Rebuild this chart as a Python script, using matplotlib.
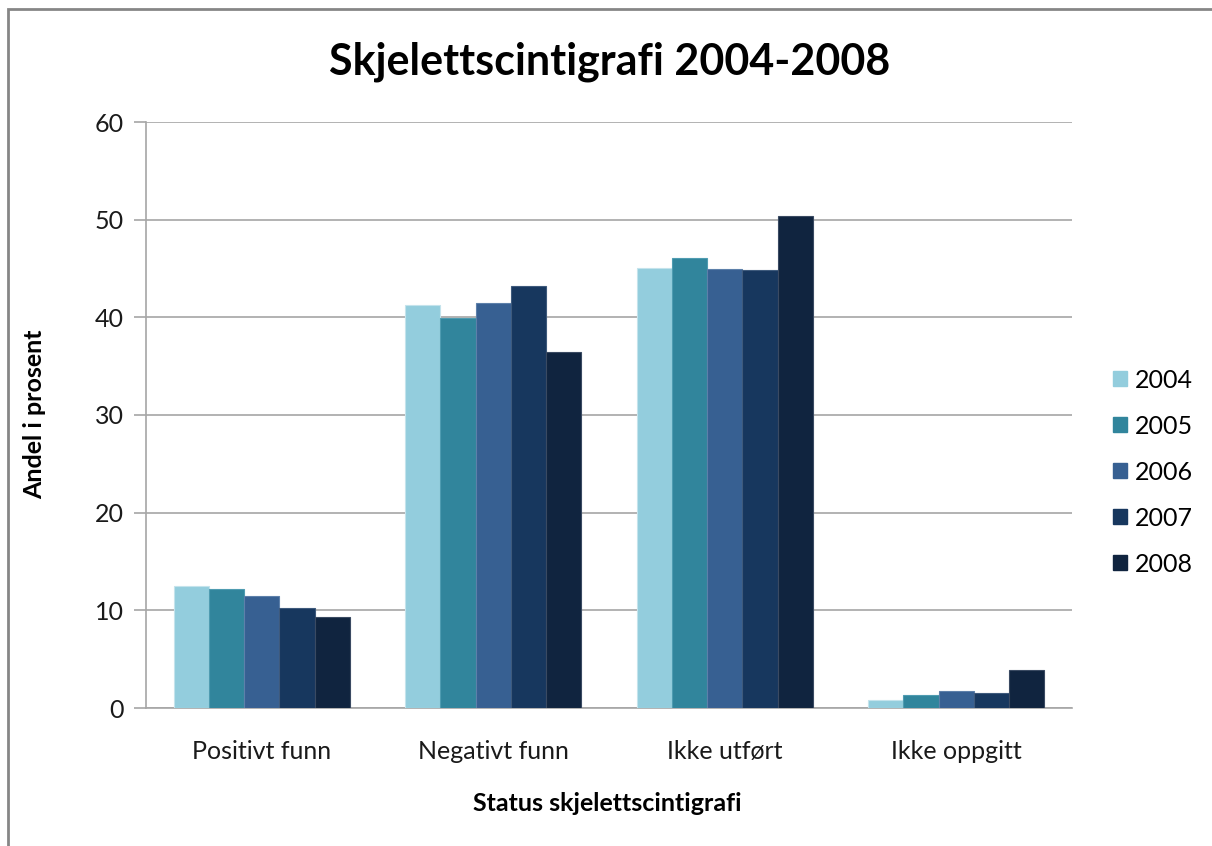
import matplotlib
matplotlib.use("Agg")
import matplotlib.pyplot as plt
from matplotlib.patches import Rectangle, Patch
import numpy as np

categories = ["Positivt funn", "Negativt funn", "Ikke utført", "Ikke oppgitt"]
years = ["2004", "2005", "2006", "2007", "2008"]
values = {
    "2004": [12.5, 41.3, 45.0, 0.8],
    "2005": [12.2, 39.95, 46.1, 1.35],
    "2006": [11.45, 41.5, 44.9, 1.75],
    "2007": [10.2, 43.2, 44.8, 1.5],
    "2008": [9.3, 36.4, 50.35, 3.85],
}
colors = ["#93CDDD", "#31859C", "#376092", "#17375E", "#10243F"]
edges = ["#C4E3EC", "#4F9CB1", "#5D80AA", "#3E5A7C", "#3A4A62"]

plt.rcParams['font.family'] = ['Lato', 'DejaVu Sans']

W, H = 1212, 846
fig = plt.figure(figsize=(W / 100, H / 100), dpi=100)

# outer chart border
fig.patches.append(Rectangle((8 / W, 1 - 9 / H - 2), 2, 2, transform=fig.transFigure,
                             fill=False, edgecolor="#868686", linewidth=2))

ax = fig.add_axes([146 / W, 1 - 708 / H, (1072 - 146) / W, (708 - 122) / H])

x = np.arange(len(categories))
group = 0.76
bw = group / len(years)
for i, (yr, c, ec) in enumerate(zip(years, colors, edges)):
    ax.bar(x - group / 2 + bw * (i + 0.5), values[yr], width=bw, color=c,
           edgecolor=ec, linewidth=0.8, label=yr, zorder=3)

ax.set_xlim(-0.5, len(categories) - 0.5)
ax.set_ylim(0, 60)
ax.set_yticks(range(0, 61, 10))
ax.yaxis.grid(True, color="#A6A6A6", linewidth=1.2, zorder=0)
ax.set_axisbelow(True)
for s in ["top", "right"]:
    ax.spines[s].set_visible(False)
ax.spines["left"].set_color("#A6A6A6")
ax.spines["bottom"].set_color("#A6A6A6")
ax.spines["left"].set_linewidth(1.2)
ax.spines["bottom"].set_linewidth(1.2)
ax.tick_params(axis="y", length=9, color="#A6A6A6", width=1.2, labelsize=18, pad=7, labelcolor="#1a1a1a")
ax.tick_params(axis="x", length=0, labelsize=18, pad=23, labelcolor="#1a1a1a")
ax.set_xticks(x)
ax.set_xticklabels(categories)

fig.text(35 / W, 1 - 414 / H, "Andel i prosent", rotation=90, ha="center", va="center",
         fontsize=18, fontweight="bold")
fig.text(607 / W, 1 - 803 / H, "Status skjelettscintigrafi", ha="center", va="center",
         fontsize=18, fontweight="bold")
fig.text(610 / W, 1 - 62 / H, "Skjelettscintigrafi 2004-2008", ha="center", va="center",
         fontsize=31, fontweight="bold")

handles = [Patch(facecolor=c, edgecolor=c) for c in colors]
leg = fig.legend(handles, years, loc="center left", bbox_to_anchor=(1113 / W, 1 - 472 / H),
                 frameon=False, fontsize=18, handlelength=0.56, handleheight=0.56,
                 labelspacing=0.92, handletextpad=0.3, borderpad=0, borderaxespad=0)

fig.savefig("out.png", dpi=100)
